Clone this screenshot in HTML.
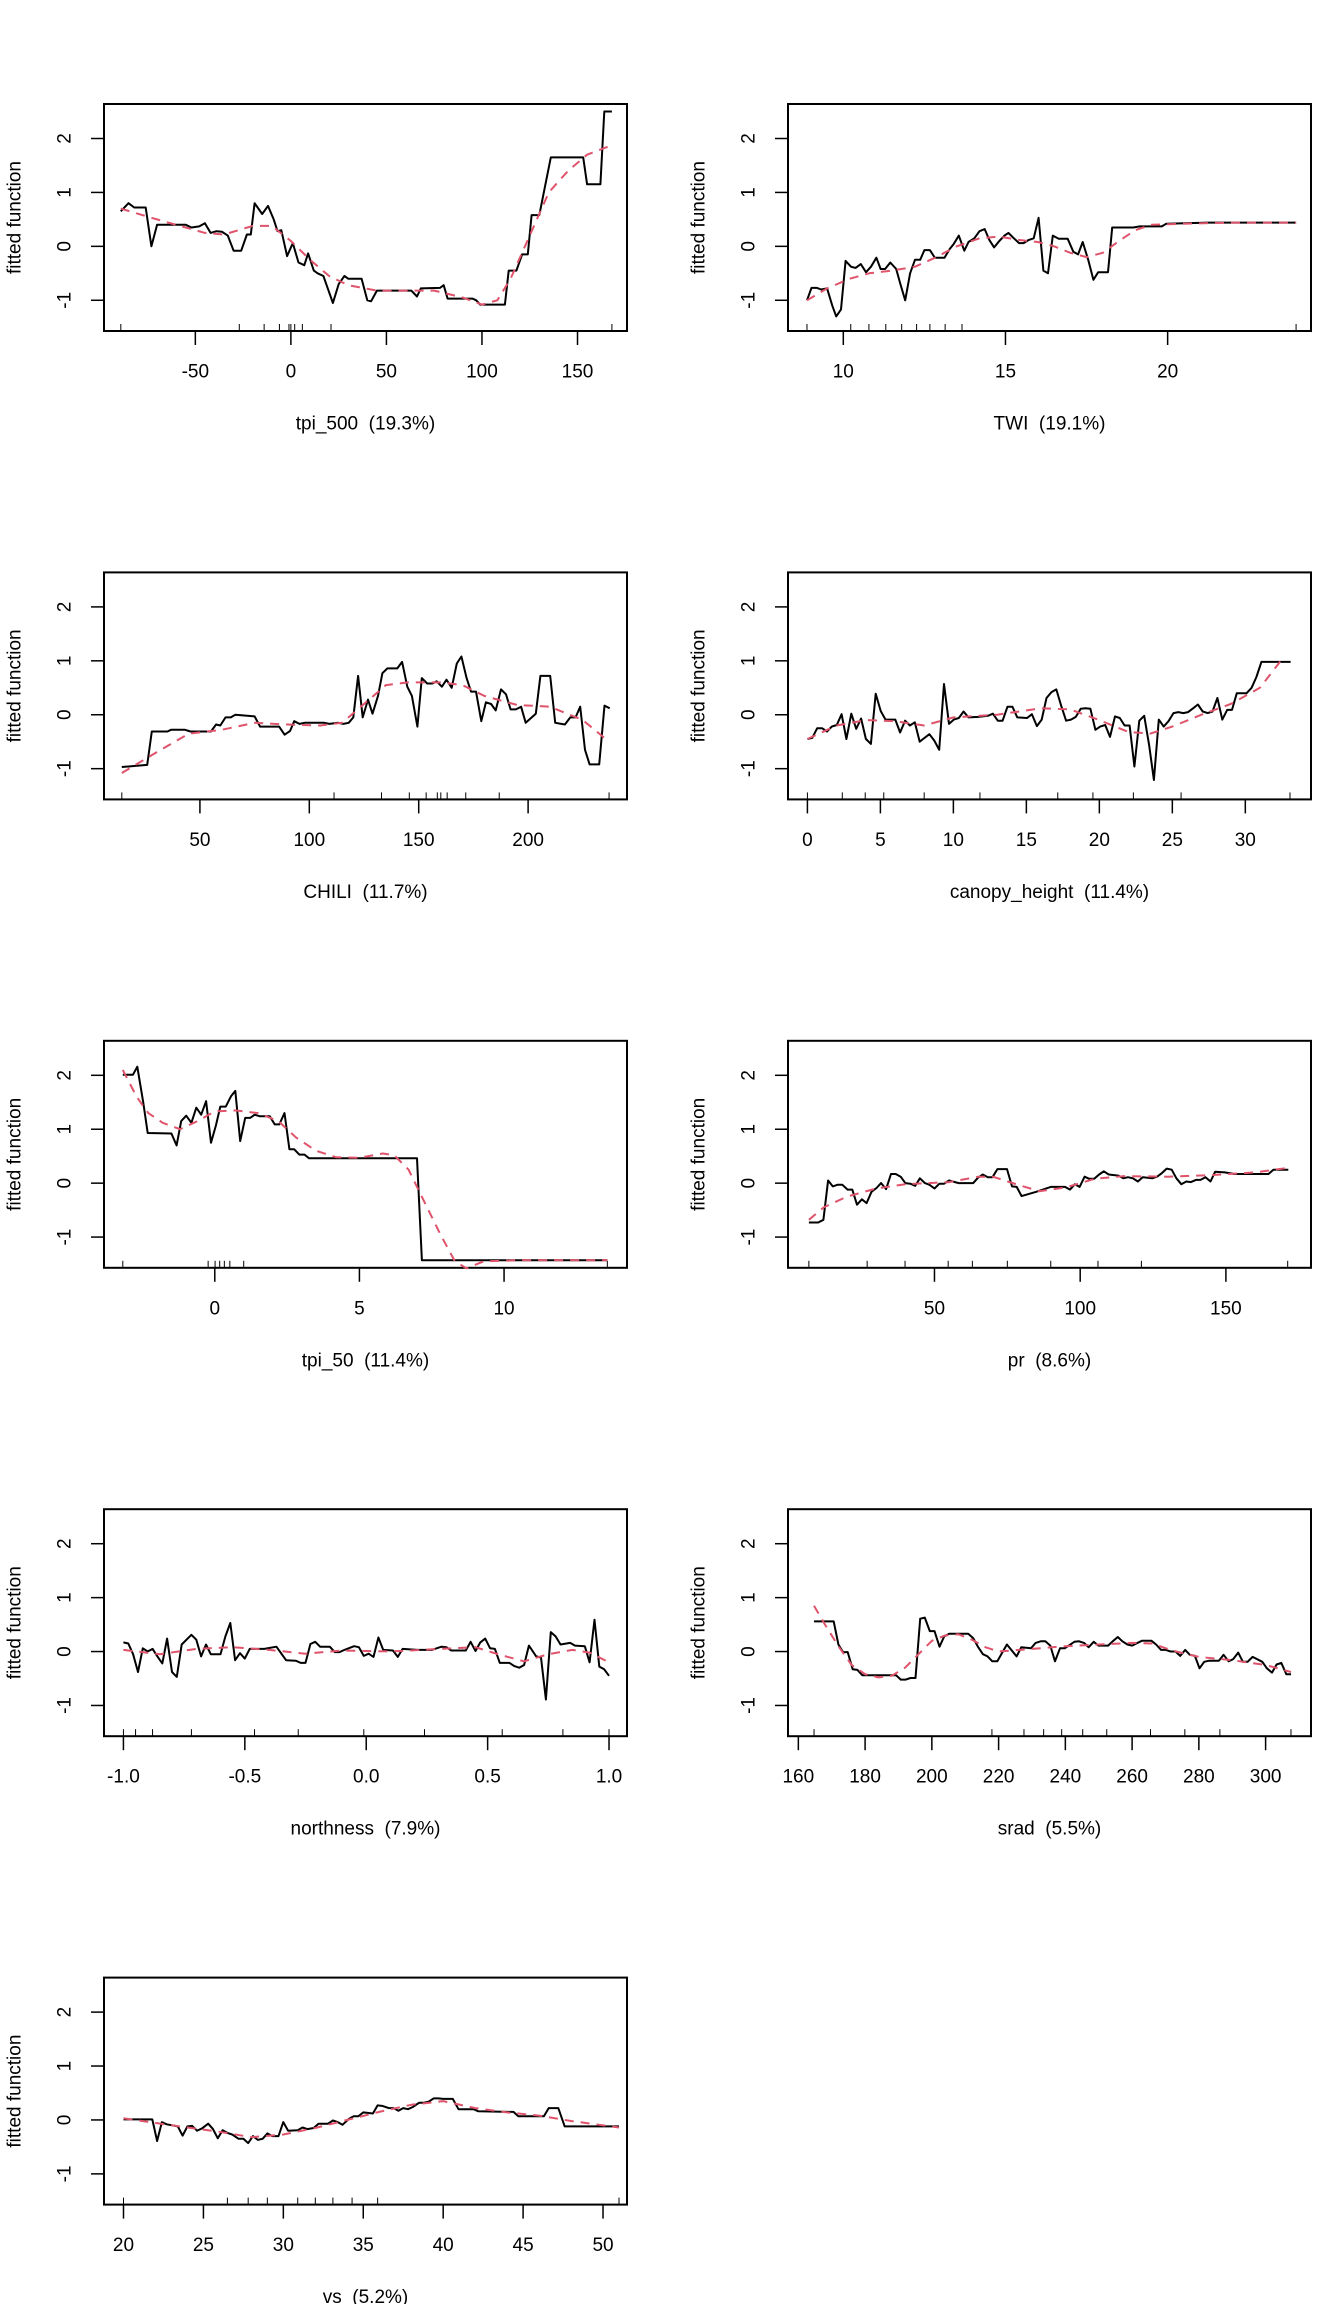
<!DOCTYPE html>
<html><head><meta charset="utf-8"><style>
html,body{margin:0;padding:0;background:#fff;}
svg{display:block;font-family:"Liberation Sans",Arial,sans-serif;}
svg text{white-space:pre;}
</style></head><body>
<svg id="chart" width="1344" height="2304" viewBox="0 0 1344 2304" xmlns="http://www.w3.org/2000/svg"></svg>
<script>
// ---- data ----
const p1X=[-89,-85,-82,-78,-76,-73,-70,-55,-52,-48,-45,-42,-39,-36,-33,-30,-26,-23,-21,-19,-15,-12,-9,-7,-5,-2,1,4,7,9,12,14,17,19,22,25,28,30,37,40,42,45,63,66,68,78,80,82,95,97,99,112,114,118,121,124,126,130,136,153,155,162,164,168];
const p1Y=[0.65,0.8,0.72,0.72,0.72,0.0,0.4,0.4,0.35,0.37,0.43,0.25,0.28,0.27,0.2,-0.08,-0.08,0.22,0.22,0.8,0.6,0.75,0.5,0.28,0.3,-0.18,0.06,-0.3,-0.35,-0.13,-0.45,-0.5,-0.55,-0.75,-1.05,-0.7,-0.55,-0.6,-0.6,-1.0,-1.02,-0.82,-0.82,-0.93,-0.78,-0.77,-0.72,-0.97,-0.97,-1.0,-1.08,-1.08,-0.45,-0.45,-0.15,-0.15,0.58,0.58,1.65,1.65,1.15,1.15,2.5,2.5];
const p1FX=[-89,-75,-60,-45,-35,-20,-10,0,10,20,30,45,60,75,90,100,108,115,125,135,145,155,166];
const p1FY=[0.7,0.55,0.4,0.25,0.22,0.38,0.38,0.1,-0.25,-0.55,-0.72,-0.82,-0.82,-0.82,-0.95,-1.08,-1.0,-0.6,0.2,1.0,1.4,1.7,1.85];
const p1Rug=[-89,-27,-14,-6,-1,0,2,6,21,168];

const p2X=[8.88,9.02,9.19,9.32,9.5,9.66,9.78,9.93,10.07,10.24,10.38,10.54,10.7,10.85,11.02,11.15,11.29,11.45,11.63,11.76,11.91,12.06,12.21,12.37,12.5,12.67,12.82,13.12,13.28,13.41,13.56,13.73,13.86,14.04,14.2,14.36,14.5,14.65,14.81,14.97,15.09,15.26,15.42,15.56,15.72,15.87,16.02,16.17,16.31,16.46,16.64,16.92,17.09,17.24,17.38,17.55,17.71,17.86,18.16,18.29,18.94,19.14,19.82,19.96,21.25,23.96];
const p2Y=[-1.0,-0.77,-0.77,-0.8,-0.78,-1.1,-1.3,-1.17,-0.27,-0.38,-0.4,-0.33,-0.48,-0.38,-0.21,-0.42,-0.42,-0.3,-0.42,-0.7,-1.0,-0.5,-0.25,-0.25,-0.07,-0.07,-0.21,-0.21,-0.05,0.05,0.2,-0.08,0.08,0.15,0.28,0.32,0.12,-0.02,0.1,0.2,0.25,0.15,0.06,0.06,0.12,0.15,0.53,-0.45,-0.5,0.2,0.14,0.14,-0.1,-0.15,0.08,-0.25,-0.62,-0.48,-0.48,0.35,0.35,0.37,0.37,0.42,0.44,0.44];
const p2FX=[8.88,9.5,10.2,10.8,11.5,12.2,12.8,13.5,14.2,14.8,15.4,16.0,16.5,17.0,17.5,18.0,18.5,19.0,19.5,20.5,22,23.96];
const p2FY=[-1.0,-0.78,-0.6,-0.5,-0.45,-0.38,-0.22,0.0,0.15,0.18,0.12,0.08,0.0,-0.12,-0.2,-0.12,0.1,0.3,0.4,0.42,0.44,0.44];
const p2Rug=[8.88,10.23,10.79,11.31,11.8,12.26,12.67,13.14,13.66,23.96];

const p3X=[14.3,19.9,25.9,28,35.2,36.8,43.2,45.7,55,57.4,59.3,61.7,64.1,66.2,75,77.5,86.2,88.7,91.2,93.1,95.5,97.9,106.8,109.2,113.2,115.6,118,120.1,122.3,124.4,126.8,128.9,131.4,133.4,135.7,140.2,142.4,144.8,146.9,149.4,151.4,153.9,156.3,158.2,160.6,162.7,165.1,167.4,169.5,171.9,173.9,176.2,178.6,180.7,183.1,185.2,187.6,189.9,192,194.4,196.8,198.9,203.5,205.6,210.1,212.4,216.8,219.3,221.7,223.8,226,228.1,232.5,234.9,237.3];
const p3Y=[-0.97,-0.95,-0.93,-0.31,-0.31,-0.28,-0.28,-0.31,-0.31,-0.18,-0.2,-0.05,-0.05,0.0,-0.03,-0.22,-0.22,-0.37,-0.3,-0.12,-0.17,-0.15,-0.15,-0.17,-0.15,-0.17,-0.15,-0.05,0.72,-0.05,0.28,0.02,0.35,0.77,0.86,0.86,0.98,0.52,0.35,-0.22,0.68,0.58,0.58,0.62,0.52,0.65,0.5,0.95,1.08,0.68,0.43,0.43,-0.12,0.23,0.2,0.08,0.47,0.38,0.1,0.1,0.15,-0.15,0.02,0.72,0.72,-0.15,-0.18,-0.05,-0.05,0.15,-0.65,-0.92,-0.92,0.17,0.12];
const p3FX=[14.3,30,45,60,75,90,105,115,125,135,145,160,170,180,195,210,225,237];
const p3FY=[-1.08,-0.7,-0.35,-0.28,-0.15,-0.18,-0.2,-0.15,0.2,0.55,0.6,0.6,0.55,0.35,0.18,0.15,-0.1,-0.5];
const p3Rug=[14.3,111.3,133,145.7,153.4,158.5,160.1,163,171.5,186.8,237];

const p4X=[0,0.33,0.67,1.0,1.34,1.67,2.01,2.34,2.67,3.01,3.34,3.68,4.01,4.35,4.68,5.02,5.35,6.02,6.35,6.69,7.02,7.36,7.69,8.02,8.36,8.69,9.03,9.36,9.7,10.03,10.37,10.7,11.03,11.7,12.37,12.71,13.04,13.37,13.71,14.04,14.38,15.05,15.38,15.72,16.05,16.38,16.72,17.05,17.39,17.72,18.06,18.39,18.72,19.06,19.39,19.73,20.06,20.4,20.73,21.07,21.4,21.73,22.07,22.4,22.74,23.07,23.41,23.74,24.07,24.41,24.74,25.08,25.41,25.75,26.08,26.42,26.75,27.08,27.42,27.75,28.09,28.42,28.76,29.09,29.42,29.76,30.09,30.43,30.76,31.1,33.1];
const p4Y=[-0.45,-0.43,-0.25,-0.25,-0.31,-0.22,-0.19,0.01,-0.45,0.02,-0.26,-0.07,-0.45,-0.54,0.39,0.07,-0.09,-0.09,-0.33,-0.11,-0.2,-0.14,-0.5,-0.43,-0.36,-0.48,-0.65,0.57,-0.17,-0.09,-0.06,0.06,-0.05,-0.04,-0.02,0.02,-0.11,-0.11,0.15,0.15,-0.05,-0.06,0.01,-0.21,-0.09,0.31,0.42,0.47,0.16,-0.11,-0.09,-0.04,0.11,0.12,0.11,-0.28,-0.22,-0.19,-0.41,-0.03,-0.06,-0.2,-0.2,-0.96,-0.11,-0.02,-0.56,-1.21,-0.09,-0.22,-0.12,0.03,0.05,0.03,0.05,0.12,0.19,0.06,0.03,0.06,0.31,-0.09,0.09,0.09,0.4,0.4,0.4,0.5,0.7,0.98,0.98];
const p4FX=[0,2,4,6,8,10,13,16,18,20,22,23.5,25,27,29,31,32.6];
const p4FY=[-0.45,-0.2,-0.1,-0.12,-0.2,-0.05,0.0,0.12,0.1,-0.1,-0.32,-0.35,-0.22,0.0,0.2,0.5,1.06];
const p4Rug=[0,2.39,3.96,5.23,8,11.82,17.15,19.56,22.33,25.6,33.06];

const p5X=[-3.18,-2.83,-2.68,-2.47,-2.32,-1.5,-1.32,-1.16,-0.99,-0.81,-0.64,-0.47,-0.3,-0.13,0.04,0.19,0.38,0.56,0.71,0.88,1.05,1.22,1.38,1.56,1.9,2.07,2.23,2.41,2.58,2.74,2.92,3.1,3.26,6.99,7.16,13.57];
const p5Y=[2.01,2.01,2.16,1.49,0.93,0.92,0.7,1.15,1.25,1.12,1.4,1.27,1.52,0.75,1.07,1.42,1.42,1.61,1.71,0.78,1.21,1.21,1.27,1.24,1.24,1.09,1.09,1.3,0.63,0.63,0.53,0.53,0.46,0.46,-1.43,-1.43];
const p5FX=[-3.18,-2.7,-2.3,-1.8,-1.2,-0.6,0,0.7,1.5,2.2,2.8,3.5,4.2,5,5.8,6.2,6.7,7.2,7.8,8.3,8.7,9.3,10.5,13.57];
const p5FY=[2.1,1.6,1.3,1.12,1.0,1.15,1.33,1.35,1.3,1.15,0.85,0.6,0.48,0.47,0.55,0.52,0.25,-0.3,-0.95,-1.45,-1.58,-1.45,-1.43,-1.43];
const p5Rug=[-3.18,-0.23,0.01,0.17,0.33,0.52,1.0,13.57];

const p6X=[6.9,10.1,11.9,13.5,15.1,16.7,18.4,20.2,21.8,23.4,25.1,26.7,28.4,30.1,31.7,33.4,35.1,36.7,38.4,40,41.7,43.4,45,46.7,48.3,50,51.7,53.3,55,58.3,63.3,64.9,66.6,68.3,69.9,71.6,74.9,76.6,78.2,79.9,84.9,89.9,94.8,96.5,98.2,99.8,101.5,103.1,104.8,106.5,108.1,109.8,113.1,114.8,116.4,118.1,119.8,121.4,124.7,126.4,128.1,129.7,131.4,133,134.7,136.4,138,139.7,141.3,143,144.7,146.3,149.6,153,156.3,164.6,166.3,171.4];
const p6Y=[-0.73,-0.73,-0.68,0.05,-0.06,-0.03,-0.03,-0.12,-0.12,-0.4,-0.3,-0.37,-0.16,-0.09,0.0,-0.11,0.17,0.17,0.12,0,-0.01,-0.05,0.09,0,-0.03,-0.1,-0.01,-0.01,0.05,0,0,0.1,0.16,0.11,0.11,0.26,0.26,-0.06,-0.07,-0.24,-0.16,-0.07,-0.07,-0.12,-0.02,-0.07,0.12,0.08,0.08,0.16,0.22,0.16,0.14,0.09,0.11,0.09,0.03,0.11,0.09,0.12,0.19,0.27,0.25,0.09,-0.02,0.03,0.02,0.06,0.06,0.11,0.03,0.21,0.2,0.17,0.17,0.17,0.25,0.25];
const p6FX=[6.9,12,20,30,40,55,65,70,78,86,95,105,115,130,145,160,171];
const p6FY=[-0.68,-0.45,-0.25,-0.1,-0.02,0.02,0.12,0.12,-0.02,-0.15,-0.08,0.08,0.13,0.12,0.15,0.2,0.28];
const p6Rug=[6.9,26.9,39.9,54.7,63,75,89.9,106.1,121,171.2];

const p7X=[-1,-0.98,-0.96,-0.94,-0.92,-0.9,-0.88,-0.86,-0.84,-0.82,-0.8,-0.78,-0.76,-0.72,-0.7,-0.68,-0.66,-0.64,-0.6,-0.58,-0.56,-0.54,-0.52,-0.5,-0.48,-0.42,-0.37,-0.33,-0.29,-0.27,-0.25,-0.23,-0.21,-0.19,-0.15,-0.13,-0.11,-0.09,-0.05,-0.03,-0.01,0.01,0.03,0.05,0.07,0.11,0.13,0.15,0.21,0.27,0.31,0.33,0.35,0.41,0.43,0.45,0.47,0.49,0.51,0.53,0.55,0.59,0.61,0.63,0.65,0.67,0.7,0.72,0.74,0.76,0.78,0.8,0.84,0.86,0.9,0.92,0.94,0.96,0.98,1.0];
const p7Y=[0.17,0.15,-0.05,-0.38,0.06,0,0.05,-0.09,-0.22,0.24,-0.38,-0.47,0.13,0.31,0.22,-0.09,0.13,-0.05,-0.05,0.28,0.53,-0.16,-0.03,-0.13,0.05,0.05,0.09,-0.16,-0.17,-0.21,-0.21,0.14,0.18,0.09,0.09,-0.01,-0.01,0.03,0.1,0.08,-0.08,-0.04,-0.1,0.26,0.03,0.02,-0.1,0.05,0.03,0.03,0.09,0.08,0.02,0.02,0.18,0.01,0.17,0.24,0.06,0.05,-0.21,-0.21,-0.27,-0.3,-0.25,0.11,-0.09,-0.11,-0.89,0.36,0.28,0.13,0.16,0.11,0.1,-0.2,0.59,-0.28,-0.33,-0.45];
const p7FX=[-1,-0.85,-0.7,-0.55,-0.4,-0.25,-0.1,0.1,0.3,0.45,0.55,0.65,0.75,0.85,0.92,1.0];
const p7FY=[0.03,-0.05,0.05,0.08,0.03,-0.04,0.02,0.0,0.05,0.08,-0.06,-0.18,-0.05,0.03,-0.02,-0.2];
const p7Rug=[-1,-0.95,-0.88,-0.72,-0.46,-0.28,-0.01,0.24,0.56,0.81,1.0];

const p8X=[164.7,170.6,172,173.4,174.8,176.3,177.7,179.2,189.3,190.7,192.2,193.6,195.1,196.5,197.9,199.4,200.8,202.3,203.7,205.2,210.9,212.4,213.8,215.3,216.7,218.1,219.6,222.5,225.4,226.8,229.7,231.1,232.6,234,235.5,236.9,238.4,239.8,242.7,244.1,245.6,247,248.5,249.9,252.8,254.2,255.7,257.1,258.6,260,262.9,265.8,267.2,268.7,270.1,271.5,273,274.4,275.9,277.3,278.8,280.2,281.6,283.1,286,287.4,288.9,290.3,291.8,293.2,294.6,296.1,299,300.4,301.9,303.3,304.7,306.2,307.6];
const p8Y=[0.56,0.56,0.13,-0.01,-0.01,-0.33,-0.34,-0.44,-0.44,-0.52,-0.52,-0.49,-0.49,0.61,0.63,0.38,0.38,0.09,0.28,0.33,0.33,0.25,0.09,-0.05,-0.09,-0.18,-0.18,0.13,-0.09,0.08,0.06,0.16,0.19,0.19,0.11,-0.18,0.06,0.06,0.18,0.19,0.16,0.08,0.18,0.11,0.11,0.19,0.27,0.19,0.13,0.11,0.2,0.2,0.13,0.03,0.03,0,0,-0.08,0.03,-0.06,-0.08,-0.31,-0.19,-0.17,-0.17,-0.06,-0.18,-0.14,-0.02,-0.19,-0.19,-0.1,-0.19,-0.31,-0.39,-0.24,-0.21,-0.42,-0.42];
const p8FX=[164.7,168,172,176,180,184,188,192,196,200,204,208,212,216,220,230,240,250,260,266,272,280,290,300,307.6];
const p8FY=[0.85,0.5,0.1,-0.25,-0.42,-0.48,-0.45,-0.3,-0.05,0.2,0.3,0.32,0.22,0.08,0.0,0.05,0.1,0.13,0.16,0.15,0.02,-0.1,-0.16,-0.25,-0.38];
const p8Rug=[164.7,218,227.6,233.5,238.9,245.2,252.4,265.5,275.8,286.3,307.6];

const p9X=[20,21.8,22.1,22.4,22.7,23.4,23.7,24,24.3,24.6,24.9,25.3,25.6,25.9,26.2,26.5,26.8,27.2,27.5,27.8,28.1,28.4,28.7,29.0,29.3,29.7,30,30.3,30.9,31.2,31.5,31.9,32.2,32.8,33.1,33.4,33.7,34.1,34.4,34.7,35,35.6,35.9,36.2,36.6,36.9,37.2,37.5,37.8,38.1,38.5,38.8,39.1,39.4,39.7,40,40.6,40.96,41.9,42.2,44.1,44.4,44.7,46.3,46.6,47.2,47.6,51];
const p9Y=[0.01,0.01,-0.39,-0.04,-0.08,-0.12,-0.29,-0.12,-0.11,-0.2,-0.16,-0.07,-0.17,-0.34,-0.19,-0.24,-0.27,-0.35,-0.35,-0.43,-0.3,-0.37,-0.35,-0.25,-0.3,-0.3,-0.04,-0.2,-0.19,-0.14,-0.17,-0.15,-0.07,-0.07,-0.01,-0.04,-0.09,0.02,0.07,0.07,0.14,0.12,0.27,0.26,0.22,0.22,0.17,0.22,0.2,0.24,0.32,0.32,0.34,0.4,0.4,0.39,0.39,0.2,0.2,0.16,0.15,0.15,0.07,0.07,0.22,0.22,-0.12,-0.12];
const p9FX=[20,23,26,28,30,32,34,36,38,40,42,44,46,48,51];
const p9FY=[0.03,-0.1,-0.22,-0.32,-0.27,-0.15,0.0,0.15,0.28,0.35,0.22,0.14,0.08,-0.02,-0.14];
const p9Rug=[20,26.5,27.8,29,30.9,32,33.1,34.3,35.9,51];

const yTicks=[-1,0,1,2];
const titles=["tpi_500  (19.3%)","TWI  (19.1%)","CHILI  (11.7%)","canopy_height  (11.4%)","tpi_50  (11.4%)","pr  (8.6%)","northness  (7.9%)","srad  (5.5%)","vs  (5.2%)"];
const xTicks=[[-50,0,50,100,150],[10,15,20],[50,100,150,200],[0,5,10,15,20,25,30],[0,5,10],[50,100,150],[-1,-0.5,0,0.5,1],[160,180,200,220,240,260,280,300],[20,25,30,35,40,45,50]];
const xTickLabels=[null,null,null,null,null,null,["-1.0","-0.5","0.0","0.5","1.0"],null,null];
const xLims=[[-97.8,175.9],[8.295,24.42],[6.16,245.2],[-1.33,34.5],[-3.83,14.25],[-0.26,179.2],[-1.08,1.074],[156.9,313.6],[18.78,51.5]];
const lines=[[p1X,p1Y],[p2X,p2Y],[p3X,p3Y],[p4X,p4Y],[p5X,p5Y],[p6X,p6Y],[p7X,p7Y],[p8X,p8Y],[p9X,p9Y]];
const fits=[[p1FX,p1FY],[p2FX,p2FY],[p3FX,p3FY],[p4FX,p4FY],[p5FX,p5FY],[p6FX,p6FY],[p7FX,p7FY],[p8FX,p8FY],[p9FX,p9FY]];
const rugs=[p1Rug,p2Rug,p3Rug,p4Rug,p5Rug,p6Rug,p7Rug,p8Rug,p9Rug];
const yLim=[-1.57,2.64];

// ---- drawing ----
const NS="http://www.w3.org/2000/svg";
const svg=document.getElementById('chart');
function mk(tag,attrs,parent){const e=document.createElementNS(NS,tag);for(const k in attrs)e.setAttribute(k,attrs[k]);(parent||svg).appendChild(e);return e;}
const colLeft=[104,788], W=523, H=227, top0=104, rowStep=468.4;
for(let i=0;i<9;i++){
  const col=i%2,row=Math.floor(i/2);
  const L=colLeft[col],T=top0+row*rowStep,B=T+H,R=L+W;
  const [x0,x1]=xLims[i];
  const sx=v=>L+(v-x0)/(x1-x0)*W;
  const sy=v=>B-(v-yLim[0])/(yLim[1]-yLim[0])*H;
  const g=mk('g',{});
  
  
  const fr=mk('rect',{x:L,y:T,width:W,height:H,fill:'none',stroke:'#000','stroke-width':2},g);
  
  
  const ya=mk('g',{},g);
  
  
  mk('line',{x1:L,x2:L,y1:sy(yTicks[0]),y2:sy(yTicks[yTicks.length-1]),stroke:'#000','stroke-width':1.5},ya);
  yTicks.forEach(t=>{
    const y=sy(t);
    mk('line',{x1:L-13,x2:L,y1:y,y2:y,stroke:'#000','stroke-width':1.5},ya);
    const tx=mk('text',{x:L-39,y:y,'font-size':19,'text-anchor':'middle','dominant-baseline':'central',transform:`rotate(-90 ${L-39} ${y})`},ya);
    tx.textContent=String(t);
    
    
  });
  const yt=mk('text',{x:L-89,y:(T+B)/2,'font-size':19,'text-anchor':'middle','dominant-baseline':'central',transform:`rotate(-90 ${L-89} ${(T+B)/2})`},g);
  yt.textContent='fitted function';
  
  
  const xa=mk('g',{},g);
  
  
  const tk=xTicks[i];
  mk('line',{x1:sx(tk[0]),x2:sx(tk[tk.length-1]),y1:B,y2:B,stroke:'#000','stroke-width':1.5},xa);
  tk.forEach((t,j)=>{
    const x=sx(t);
    mk('line',{x1:x,x2:x,y1:B,y2:B+14,stroke:'#000','stroke-width':1.5},xa);
    const tx=mk('text',{x:x,y:B+41,'font-size':19,'text-anchor':'middle','dominant-baseline':'central'},xa);
    tx.textContent=xTickLabels[i]?xTickLabels[i][j]:String(t);
    
    
  });
  const xt=mk('text',{x:(L+R)/2,y:B+93,'font-size':19,'text-anchor':'middle','dominant-baseline':'central'},g);
  xt.textContent=titles[i];
  
  
  const rg=mk('g',{},g);
  
  
  rugs[i].forEach(v=>{mk('line',{x1:sx(v),x2:sx(v),y1:B,y2:B-7,stroke:'#000','stroke-width':1},rg);});
  const [lx,ly]=lines[i];
  const pl=mk('polyline',{points:lx.map((v,k)=>sx(v).toFixed(1)+','+sy(ly[k]).toFixed(1)).join(' '),fill:'none',stroke:'#000','stroke-width':2,'stroke-linejoin':'round'},g);
  
  
  const [fx,fy]=fits[i];
  const sm=mk('polyline',{points:fx.map((v,k)=>sx(v).toFixed(1)+','+sy(fy[k]).toFixed(1)).join(' '),fill:'none',stroke:'#DF536B','stroke-width':2,'stroke-dasharray':'9,7','stroke-linejoin':'round'},g);
  
  
}
</script>
</body></html>
